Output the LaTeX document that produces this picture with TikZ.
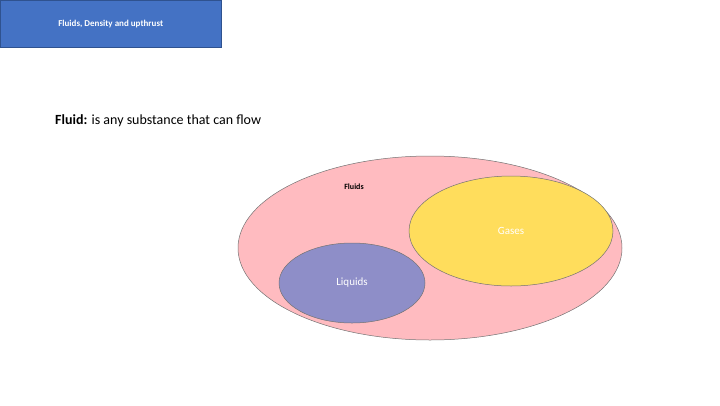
\documentclass[tikz,border=0pt]{standalone}
\usepackage{fontspec}
\setmainfont{Carlito}
\begin{document}
\begin{tikzpicture}[x=1pt,y=-1pt,
  ell/.style={draw=black!55,line width=0.5pt},
  lbl/.style={text=white,font=\fontsize{11}{13}\selectfont}]
\useasboundingbox (0,0) rectangle (720,405);
\node[fill={rgb,255:red,68;green,114;blue,196},draw={rgb,255:red,47;green,82;blue,143},minimum width=221pt,minimum height=47pt,anchor=north west,inner sep=0,font=\fontsize{9}{11}\selectfont\bfseries,text=white] (title) at (0,0) {Fluids, Density and upthrust};
\node[anchor=west,font=\fontsize{14}{17}\selectfont,inner sep=0] (def) at (55,121) {\textbf{Fluid:} is any substance that can flow};
\draw[ell,fill={rgb,255:red,255;green,187;blue,192}] (430,248) ellipse [x radius=192,y radius=92];
\node[font=\fontsize{8}{10}\selectfont\bfseries] (fl) at (354,187) {Fluids};
\draw[ell,fill={rgb,255:red,255;green,221;blue,92}] (511,231) ellipse [x radius=102,y radius=55];
\node[lbl] (gases) at (511,231) {Gases};
\draw[ell,fill={rgb,255:red,142;green,142;blue,200}] (352,283) ellipse [x radius=73,y radius=40];
\node[lbl] (liquids) at (352,283) {Liquids};
\end{tikzpicture}
\end{document}
